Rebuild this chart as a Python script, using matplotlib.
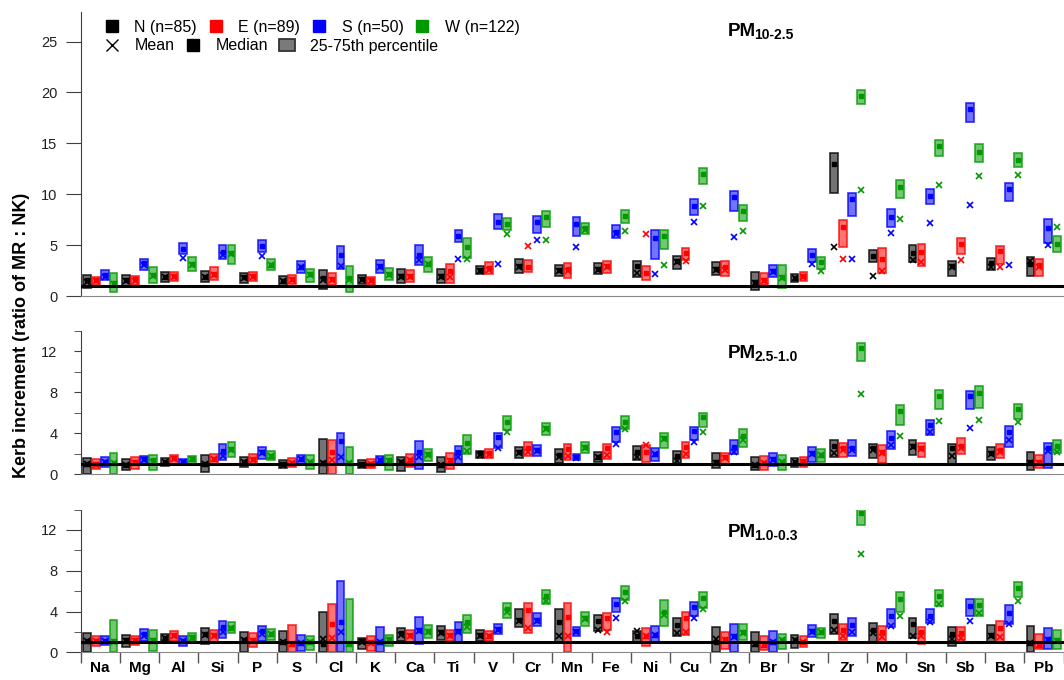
import matplotlib
matplotlib.use('Agg')
import matplotlib.pyplot as plt
from matplotlib.lines import Line2D
from matplotlib.patches import Patch
from matplotlib.colors import to_rgba
import numpy as np

plt.rcParams['font.family'] = ['Liberation Sans', 'DejaVu Sans']

elements = ['Na', 'Mg', 'Al', 'Si', 'P', 'S', 'Cl', 'K', 'Ca', 'Ti', 'V', 'Cr', 'Mn',
            'Fe', 'Ni', 'Cu', 'Zn', 'Br', 'Sr', 'Zr', 'Mo', 'Sn', 'Sb', 'Ba', 'Pb']
directions = ['N', 'E', 'S', 'W']
dir_labels = ['N (n=85)', 'E (n=89)', 'S (n=50)', 'W (n=122)']
dir_colors = ['#000000', '#FF0000', '#0000FF', '#009900']

# ---------------- PM10-2.5 ----------------
pm10_N_q25 = [0.8, 0.85, 1.4, 1.4, 1.3, 1.0, 0.7, 1.2, 1.25, 1.25, 2.15, 2.25, 2.0, 2.15, 1.9, 2.7, 2.05, 0.6, 1.4, 10.1, 3.3, 3.3, 1.95, 2.6, 1.95]
pm10_N_q75 = [2.1, 2.05, 2.4, 2.45, 2.3, 2.0, 2.6, 2.05, 2.65, 2.7, 2.95, 3.6, 3.05, 3.2, 3.4, 3.95, 3.3, 2.4, 2.15, 14.0, 4.5, 5.0, 3.45, 3.75, 3.85]
pm10_N_med = [1.6, 1.55, 1.9, 1.9, 1.85, 1.5, 1.75, 1.65, 2.0, 2.0, 2.6, 2.9, 2.55, 2.65, 2.9, 3.4, 2.7, 1.4, 1.75, 13.0, 3.95, 4.25, 2.9, 3.2, 3.15]
pm10_N_mean = [1.4, 1.5, 1.85, 1.85, 1.8, 1.5, 1.6, 1.6, 1.9, 1.9, 2.5, 2.8, 2.5, 2.55, 2.3, 3.3, 2.6, 1.3, 1.75, 4.85, 1.97, 3.55, 2.8, 2.8, 3.4]

pm10_E_q25 = [1.1, 1.1, 1.5, 1.55, 1.5, 1.2, 1.1, 1.1, 1.4, 1.3, 2.15, 2.35, 1.8, 2.3, 1.55, 3.55, 1.95, 1.1, 1.5, 4.8, 2.3, 2.95, 4.15, 3.1, 1.95]
pm10_E_q75 = [1.9, 1.95, 2.4, 2.8, 2.35, 2.05, 2.25, 1.9, 2.55, 3.1, 3.35, 3.55, 3.2, 3.45, 2.9, 4.7, 3.45, 2.3, 2.4, 7.5, 4.75, 5.1, 5.65, 4.95, 3.6]
pm10_E_med = [1.55, 1.65, 1.95, 2.2, 1.95, 1.65, 1.65, 1.55, 1.95, 2.5, 2.75, 2.85, 2.65, 2.9, 2.3, 4.2, 2.8, 1.55, 1.95, 6.75, 3.6, 4.35, 5.1, 4.45, 3.05]
pm10_E_mean = [1.5, 1.5, 1.9, 2.1, 1.9, 1.6, 1.55, 1.5, 1.9, 1.85, 2.6, 4.9, 2.5, 2.8, 6.1, 3.45, 2.6, 1.5, 1.9, 3.65, 2.5, 3.3, 3.55, 2.85, 2.8]

pm10_S_q25 = [1.55, 2.6, 4.1, 3.6, 4.35, 2.3, 2.7, 2.3, 3.05, 5.35, 6.6, 6.15, 5.9, 5.65, 3.65, 7.95, 8.35, 1.9, 3.3, 7.9, 6.8, 9.05, 17.1, 9.3, 5.2]
pm10_S_q75 = [2.55, 3.65, 5.25, 5.0, 5.55, 3.4, 4.9, 3.55, 5.05, 6.5, 8.05, 7.85, 7.75, 7.0, 6.45, 9.55, 10.35, 3.05, 4.6, 10.15, 8.55, 10.5, 18.95, 11.15, 7.55]
pm10_S_med = [2.05, 3.2, 4.65, 4.3, 4.95, 2.8, 4.0, 2.95, 4.0, 5.9, 7.3, 7.25, 7.1, 6.25, 5.65, 8.8, 9.7, 2.5, 4.05, 9.5, 7.8, 9.85, 18.35, 10.55, 6.65]
pm10_S_mean = [1.9, 3.0, 3.7, 4.0, 3.95, 2.8, 2.9, 2.8, 3.5, 3.65, 3.1, 5.5, 4.85, 6.1, 2.15, 7.3, 5.8, 2.4, 3.15, 3.65, 6.15, 7.2, 8.9, 3.0, 5.0]

pm10_W_q25 = [0.35, 1.3, 2.5, 3.1, 2.55, 1.4, 0.35, 1.55, 2.35, 3.7, 6.45, 6.8, 6.05, 7.15, 4.6, 11.0, 7.4, 0.75, 2.65, 18.9, 9.6, 13.75, 13.2, 12.7, 4.35]
pm10_W_q75 = [2.3, 2.8, 3.8, 5.05, 3.6, 2.7, 2.9, 2.75, 3.85, 5.65, 7.7, 8.35, 7.2, 8.4, 6.45, 12.6, 8.95, 3.05, 3.85, 20.25, 11.4, 15.3, 14.9, 14.05, 5.85]
pm10_W_med = [1.3, 2.1, 3.1, 4.2, 3.05, 2.15, 1.75, 2.15, 3.15, 4.8, 7.1, 7.75, 6.7, 7.85, 5.9, 12.0, 8.35, 1.9, 3.3, 19.65, 10.75, 14.75, 14.15, 13.4, 5.1]
pm10_W_mean = [1.2, 2.0, 3.0, 4.1, 3.0, 2.1, 1.6, 2.1, 3.1, 3.65, 6.05, 5.55, 6.5, 6.35, 3.0, 8.8, 6.35, 1.8, 2.5, 10.45, 7.55, 10.9, 11.8, 11.9, 6.8]

# ---------------- PM2.5-1.0 ----------------
pm25_N_q25 = [0.0, 0.4, 0.8, 0.2, 0.75, 0.6, 0.0, 0.6, 0.35, 0.25, 1.55, 1.55, 1.15, 1.2, 1.4, 1.05, 0.6, 0.4, 0.7, 1.7, 1.55, 1.9, 1.05, 1.35, 0.4]
pm25_N_q75 = [1.55, 1.45, 1.55, 1.9, 1.65, 1.4, 3.4, 1.4, 1.7, 1.7, 2.3, 2.7, 2.45, 2.2, 2.75, 2.3, 2.05, 1.7, 1.55, 3.35, 3.0, 3.35, 3.0, 2.65, 2.2]
pm25_N_med = [1.0, 0.9, 1.2, 1.0, 1.25, 1.0, 1.15, 1.0, 1.25, 0.9, 2.05, 2.2, 1.9, 1.7, 2.2, 1.8, 1.25, 0.9, 1.25, 2.75, 2.55, 2.75, 2.55, 2.05, 1.2]
pm25_N_mean = [1.0, 0.9, 1.2, 1.0, 1.2, 0.95, 1.1, 0.95, 1.2, 0.9, 1.9, 2.1, 1.65, 1.7, 1.7, 1.3, 1.1, 0.9, 1.2, 2.05, 2.4, 2.7, 1.8, 1.95, 1.1]

pm25_E_q25 = [0.5, 0.5, 1.05, 1.0, 1.05, 0.75, 0.0, 0.65, 0.75, 0.5, 1.55, 1.8, 1.35, 1.45, 1.25, 1.55, 1.05, 0.4, 0.75, 1.65, 1.15, 1.7, 2.0, 1.55, 0.6]
pm25_E_q75 = [1.45, 1.65, 1.9, 2.0, 1.95, 1.55, 3.35, 1.45, 2.0, 2.05, 2.45, 3.2, 3.0, 3.0, 2.85, 3.2, 2.1, 1.8, 1.7, 3.1, 2.85, 3.1, 3.5, 2.95, 1.9]
pm25_E_med = [1.0, 1.25, 1.55, 1.5, 1.45, 1.15, 2.2, 1.0, 1.4, 1.4, 2.05, 2.55, 2.5, 2.55, 2.2, 2.7, 1.65, 1.15, 1.3, 2.55, 2.2, 2.55, 2.75, 2.35, 1.25]
pm25_E_mean = [0.95, 1.1, 1.5, 1.45, 1.4, 1.1, 1.35, 1.0, 1.35, 1.3, 1.9, 2.2, 1.8, 1.9, 2.85, 2.0, 1.6, 1.1, 1.25, 2.4, 2.1, 2.5, 2.6, 2.2, 1.15]

pm25_S_q25 = [0.75, 1.0, 1.0, 1.4, 1.45, 1.0, 1.05, 1.0, 0.55, 1.05, 2.6, 1.8, 1.35, 3.2, 1.3, 3.35, 2.0, 0.8, 1.2, 1.8, 2.45, 3.85, 6.35, 2.7, 0.6]
pm25_S_q75 = [1.65, 1.8, 1.45, 2.95, 2.65, 1.9, 4.0, 1.8, 3.25, 2.75, 4.05, 2.85, 2.0, 4.6, 2.6, 4.65, 3.35, 2.05, 2.7, 3.35, 4.25, 5.35, 8.15, 4.7, 3.1]
pm25_S_med = [1.25, 1.45, 1.25, 2.3, 2.2, 1.45, 3.3, 1.4, 2.2, 2.2, 3.6, 2.35, 1.65, 4.15, 2.0, 4.25, 2.7, 1.45, 2.05, 2.55, 3.5, 4.8, 7.65, 4.15, 2.55]
pm25_S_mean = [1.2, 1.4, 1.2, 1.8, 2.1, 1.45, 1.65, 1.35, 1.65, 1.65, 2.6, 2.3, 1.6, 2.95, 1.95, 3.15, 2.2, 1.4, 2.0, 2.4, 2.85, 4.15, 4.55, 3.35, 2.3]

pm25_W_q25 = [0.0, 0.4, 1.05, 1.7, 1.35, 0.5, 0.0, 0.4, 1.3, 2.0, 4.35, 3.85, 2.1, 4.4, 2.55, 4.65, 2.7, 0.4, 1.2, 11.1, 4.8, 6.35, 6.45, 5.45, 2.05]
pm25_W_q75 = [2.1, 1.9, 1.8, 3.15, 2.3, 1.9, 2.65, 1.9, 2.45, 3.85, 5.7, 5.05, 3.2, 5.7, 4.05, 6.0, 4.4, 1.85, 2.45, 12.85, 6.75, 8.25, 8.6, 6.9, 3.35]
pm25_W_med = [1.15, 1.35, 1.45, 2.5, 1.8, 1.25, 1.15, 1.35, 1.95, 3.1, 5.15, 4.5, 2.7, 5.15, 3.5, 5.55, 3.75, 1.25, 1.9, 12.3, 6.2, 7.65, 7.95, 6.35, 2.75]
pm25_W_mean = [1.1, 1.2, 1.45, 2.4, 1.8, 1.2, 1.1, 1.3, 1.9, 2.3, 4.15, 4.4, 2.6, 4.45, 3.4, 4.15, 3.35, 1.2, 1.85, 7.8, 3.75, 5.25, 5.3, 5.1, 2.2]

# ---------------- PM1.0-0.3 ----------------
pm1_N_q25 = [0.0, 0.55, 1.05, 0.85, 0.0, 0.0, 0.0, 0.35, 1.15, 1.2, 1.15, 2.5, 0.95, 2.05, 1.05, 1.55, 0.0, 0.0, 0.45, 1.8, 1.05, 1.4, 0.65, 0.95, 0.0]
pm1_N_q75 = [1.9, 1.7, 1.8, 2.4, 1.95, 2.1, 3.95, 1.4, 2.4, 2.6, 2.15, 4.2, 4.2, 3.7, 2.05, 3.35, 2.45, 2.0, 1.65, 3.8, 2.85, 3.35, 2.45, 2.7, 2.6]
pm1_N_med = [1.15, 1.2, 1.4, 1.8, 1.2, 1.0, 0.85, 1.15, 1.9, 1.95, 1.65, 3.2, 2.95, 3.05, 1.6, 2.65, 1.05, 0.8, 1.2, 3.05, 2.2, 2.75, 1.8, 1.7, 0.95]
pm1_N_mean = [1.1, 1.1, 1.4, 1.7, 1.2, 1.0, 1.3, 1.0, 1.7, 1.9, 1.6, 3.1, 1.55, 2.2, 2.05, 1.9, 1.3, 0.8, 1.2, 2.15, 1.9, 1.6, 1.3, 1.6, 0.95]

pm1_E_q25 = [0.6, 0.75, 1.1, 0.95, 0.55, 0.0, 0.0, 0.15, 1.05, 1.15, 1.15, 1.9, 0.0, 2.2, 0.6, 1.7, 0.3, 0.25, 0.55, 1.2, 1.05, 0.8, 1.2, 1.05, 0.3]
pm1_E_q75 = [1.6, 1.55, 2.1, 2.2, 1.9, 2.65, 4.7, 1.55, 2.2, 2.15, 2.1, 4.85, 4.85, 3.85, 2.35, 4.0, 1.95, 1.55, 1.55, 2.8, 2.55, 2.45, 2.45, 3.1, 1.8]
pm1_E_med = [1.15, 1.2, 1.7, 1.7, 1.2, 0.85, 2.75, 1.0, 1.7, 1.65, 1.6, 4.1, 3.45, 3.35, 1.6, 3.35, 1.3, 0.7, 1.05, 2.15, 2.0, 1.95, 1.9, 2.35, 0.7]
pm1_E_mean = [1.1, 1.15, 1.6, 1.6, 1.15, 0.85, 1.45, 0.9, 1.6, 1.6, 1.55, 2.35, 1.55, 1.95, 1.55, 2.0, 1.2, 0.75, 1.0, 1.6, 1.5, 1.55, 1.4, 1.5, 0.75]

pm1_S_q25 = [0.75, 1.1, 0.65, 1.4, 1.1, 0.1, 0.0, 0.0, 0.85, 1.05, 1.8, 2.6, 1.55, 3.95, 0.95, 3.55, 0.0, 0.05, 1.5, 1.6, 2.45, 2.85, 3.6, 2.8, 0.3]
pm1_S_q75 = [1.55, 2.3, 1.55, 3.1, 2.6, 1.65, 7.0, 2.5, 3.45, 2.95, 2.8, 3.85, 2.45, 5.3, 2.55, 4.9, 2.8, 2.05, 2.7, 3.35, 4.25, 4.2, 5.2, 4.6, 2.35]
pm1_S_med = [1.15, 1.8, 1.15, 2.5, 2.1, 0.95, 2.95, 1.05, 2.2, 2.05, 2.3, 3.2, 2.05, 4.75, 1.7, 4.45, 1.6, 1.05, 2.05, 2.7, 3.55, 3.55, 4.5, 3.85, 1.3]
pm1_S_mean = [1.1, 1.55, 1.1, 2.0, 1.8, 0.95, 2.0, 1.0, 2.05, 2.0, 2.2, 3.1, 2.0, 3.35, 1.65, 3.35, 1.5, 1.0, 2.0, 1.95, 2.6, 2.95, 3.05, 2.8, 1.2]

pm1_W_q25 = [0.0, 0.15, 1.1, 1.9, 1.2, 0.25, 0.0, 0.65, 1.4, 1.9, 3.35, 4.7, 2.55, 5.1, 2.6, 4.35, 1.2, 0.35, 1.4, 12.45, 3.95, 4.5, 3.6, 5.45, 0.3]
pm1_W_q75 = [3.15, 2.15, 1.9, 2.95, 2.3, 1.6, 5.25, 1.7, 2.65, 3.7, 4.8, 6.15, 4.0, 6.5, 5.1, 5.95, 2.75, 1.8, 2.35, 14.0, 5.95, 6.15, 5.25, 6.9, 2.2]
pm1_W_med = [1.15, 1.2, 1.5, 2.4, 1.8, 1.05, 0.85, 1.3, 2.05, 2.95, 4.25, 5.5, 3.35, 5.95, 4.0, 5.35, 1.95, 1.2, 2.0, 13.7, 5.25, 5.5, 4.6, 6.35, 1.2]
pm1_W_mean = [1.0, 1.1, 1.45, 2.35, 1.75, 1.0, 0.8, 1.2, 2.0, 2.5, 4.0, 5.0, 3.3, 5.0, 3.7, 4.2, 1.9, 1.2, 1.95, 9.65, 3.55, 4.75, 3.85, 5.0, 1.15]

panels = [
    {'main': 'PM', 'sub': '10-2.5', 'ylim': 27.9, 'major': [0, 5, 10, 15, 20, 25], 'minor': [],
     'data': [(pm10_N_q25, pm10_N_q75, pm10_N_med, pm10_N_mean),
              (pm10_E_q25, pm10_E_q75, pm10_E_med, pm10_E_mean),
              (pm10_S_q25, pm10_S_q75, pm10_S_med, pm10_S_mean),
              (pm10_W_q25, pm10_W_q75, pm10_W_med, pm10_W_mean)]},
    {'main': 'PM', 'sub': '2.5-1.0', 'ylim': 14, 'major': [0, 4, 8, 12], 'minor': [2, 6, 10, 14],
     'data': [(pm25_N_q25, pm25_N_q75, pm25_N_med, pm25_N_mean),
              (pm25_E_q25, pm25_E_q75, pm25_E_med, pm25_E_mean),
              (pm25_S_q25, pm25_S_q75, pm25_S_med, pm25_S_mean),
              (pm25_W_q25, pm25_W_q75, pm25_W_med, pm25_W_mean)]},
    {'main': 'PM', 'sub': '1.0-0.3', 'ylim': 14, 'major': [0, 4, 8, 12], 'minor': [2, 6, 10, 14],
     'data': [(pm1_N_q25, pm1_N_q75, pm1_N_med, pm1_N_mean),
              (pm1_E_q25, pm1_E_q75, pm1_E_med, pm1_E_mean),
              (pm1_S_q25, pm1_S_q75, pm1_S_med, pm1_S_mean),
              (pm1_W_q25, pm1_W_q75, pm1_W_med, pm1_W_mean)]},
]

W, H = 1064, 680
fig = plt.figure(figsize=(W / 100, H / 100), dpi=100)

left_px, right_px = 80.5, 1063.5
# (top_px, bottom_px) of each panel
panel_px = [(12, 296), (331, 474.3), (509.5, 652.3)]
title_pos = [(728, 36), (728, 358), (728, 537)]

offsets = [-0.34, -0.113, 0.113, 0.34]
box_w = 0.2
x = np.arange(len(elements))
spine_c = '#404040'
axes = []
for p, (top, bot), (tx, ty) in zip(panels, panel_px, title_pos):
    ax = fig.add_axes([left_px / W, 1 - bot / H, (right_px - left_px) / W, (bot - top) / H])
    axes.append(ax)
    for j, (q25, q75, med, mean) in enumerate(p['data']):
        c = dir_colors[j]
        q25 = np.array(q25); q75 = np.array(q75)
        ax.bar(x + offsets[j], q75 - q25, bottom=q25, width=box_w,
               color=to_rgba(c, 0.55), edgecolor=to_rgba(c, 0.8), linewidth=1.2, zorder=2)
        ax.plot(x + offsets[j], med, ls='none', marker='s', ms=3, color=c, zorder=3)
        ax.plot(x + offsets[j], mean, ls='none', marker='x', ms=4, mew=1.2, color=c, zorder=3)
    ax.axhline(1, color='black', lw=2.2, zorder=4)
    ax.set_xlim(-0.5, len(elements) - 0.5)
    ax.set_ylim(0, p['ylim'])
    for s in ['top', 'right']:
        ax.spines[s].set_visible(False)
    ax.spines['left'].set_color(spine_c)
    ax.spines['bottom'].set_color('#888888')
    ax.set_yticks(p['major'])
    ax.set_yticks(p['minor'], minor=True)
    ax.tick_params(axis='y', which='both', colors=spine_c, labelcolor='#222222', labelsize=10.5)
    # title
    t = fig.text(tx / W, 1 - ty / H, p['main'], fontsize=13.5, fontweight='bold', va='baseline', ha='left')
    ax.annotate(p['sub'], xy=(1, 0), xycoords=t, xytext=(-1.5, 0.5), textcoords='offset points',
                fontsize=10, fontweight='bold', va='baseline', ha='left')

ax1, ax2, ax3 = axes
ax1.tick_params(axis='y', which='major', length=10.5, pad=6)
ax2.tick_params(axis='y', which='major', length=5, pad=11.5)
ax2.tick_params(axis='y', which='minor', length=5)
ax3.tick_params(axis='y', which='major', length=10.5, pad=6)
ax3.tick_params(axis='y', which='minor', length=5)
for ax in (ax1, ax2):
    ax.set_xticks([])
    ax.tick_params(axis='x', which='both', length=0, labelbottom=False)

ax3.set_xticks(x)
ax3.set_xticklabels(elements, fontsize=11, fontweight='bold')
ax3.set_xticks(np.arange(-0.5, len(elements)), minor=True)
ax3.tick_params(axis='x', which='major', length=0, pad=6)
ax3.tick_params(axis='x', which='minor', length=8, width=1, color='#555555')

fig.text(22 / W, 1 - 335 / H, 'Kerb increment (ratio of MR : NK)', rotation=90,
         fontsize=13, fontweight='bold', ha='center', va='center')

# legends
h1 = [Line2D([], [], ls='none', marker='s', ms=8, color=c) for c in dir_colors]
leg1 = ax1.legend(h1, dir_labels, ncol=4, loc='center left',
                  bbox_to_anchor=(104 / W, 1 - 27.5 / H), bbox_transform=fig.transFigure,
                  frameon=False, fontsize=11.5, handlelength=1.0, handletextpad=0.9,
                  columnspacing=0.69, borderpad=0, borderaxespad=0)
ax1.add_artist(leg1)
h2 = [Line2D([], [], ls='none', marker='x', ms=9, mew=1.0, color='black'),
      Line2D([], [], ls='none', marker='s', ms=8, color='black'),
      Patch(facecolor='#7a7a7a', edgecolor='#333333', linewidth=1.3)]
ax1.legend(h2, ['Mean', 'Median', '25-75th percentile'], ncol=3, loc='center left',
           bbox_to_anchor=(104 / W, 1 - 46 / H), bbox_transform=fig.transFigure,
           frameon=False, fontsize=11.5, handlelength=1.0, handletextpad=0.9,
           columnspacing=0.69, borderpad=0, borderaxespad=0)

fig.savefig('out.png', dpi=100)
